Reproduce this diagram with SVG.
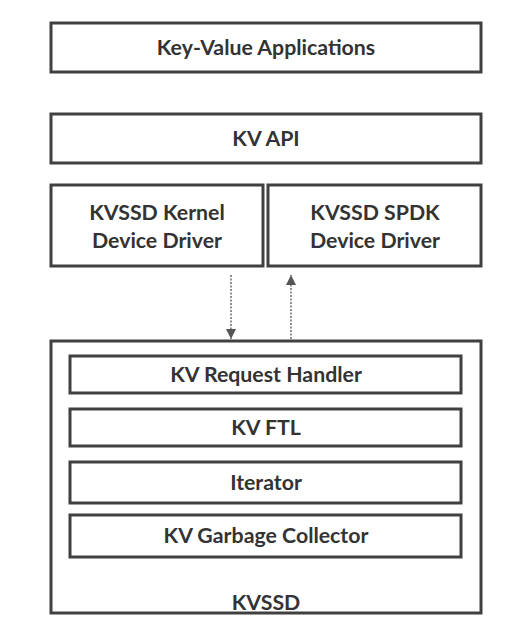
<svg xmlns="http://www.w3.org/2000/svg" width="520" height="635" viewBox="0 0 520 635">
<style>
.box{fill:#fff;stroke:#404040;stroke-width:3}
.t{font-family:Lato,"Open Sans",sans-serif;font-weight:bold;font-size:21.3px;fill:#333;text-anchor:middle;dominant-baseline:central}
.c{stroke:#555;stroke-width:1.3;stroke-dasharray:2 1.5;fill:none}
</style>
<defs>
<marker id="ah" viewBox="0 0 10 10" refX="10" refY="5" markerWidth="10" markerHeight="10" markerUnits="userSpaceOnUse" orient="auto">
<path d="M0,0 L10,5 L0,10 z" fill="#555"/>
</marker>
</defs>
<rect width="520" height="635" fill="#fff"/>
<g id="apps"><rect class="box" x="51" y="23" width="430" height="49"/><text class="t" x="266" y="47">Key-Value Applications</text></g>
<g id="kvapi"><rect class="box" x="51" y="114" width="430" height="49"/><text class="t" x="266" y="138">KV API</text></g>
<g id="kernel"><rect class="box" x="51" y="185" width="212" height="81"/><text class="t" x="157" y="212">KVSSD Kernel</text><text class="t" x="157" y="240">Device Driver</text></g>
<g id="spdk"><rect class="box" x="268" y="185" width="213" height="81"/><text class="t" x="375" y="212">KVSSD SPDK</text><text class="t" x="375" y="240">Device Driver</text></g>
<g id="kvssd"><rect class="box" x="51" y="341" width="430" height="272"/><text class="t" x="266" y="602">KVSSD</text></g>
<g id="handler"><rect class="box" x="70" y="356" width="391" height="37"/><text class="t" x="266" y="374">KV Request Handler</text></g>
<g id="ftl"><rect class="box" x="70" y="409" width="391" height="37"/><text class="t" x="266" y="427">KV FTL</text></g>
<g id="iterator"><rect class="box" x="70" y="462" width="391" height="41"/><text class="t" x="266" y="482">Iterator</text></g>
<g id="gc"><rect class="box" x="70" y="515" width="391" height="42"/><text class="t" x="266" y="535">KV Garbage Collector</text></g>
<g id="connectors">
<line class="c" x1="231" y1="275" x2="231" y2="339" marker-end="url(#ah)"/>
<line class="c" x1="291" y1="339" x2="291" y2="275" marker-end="url(#ah)"/>
</g>
</svg>
